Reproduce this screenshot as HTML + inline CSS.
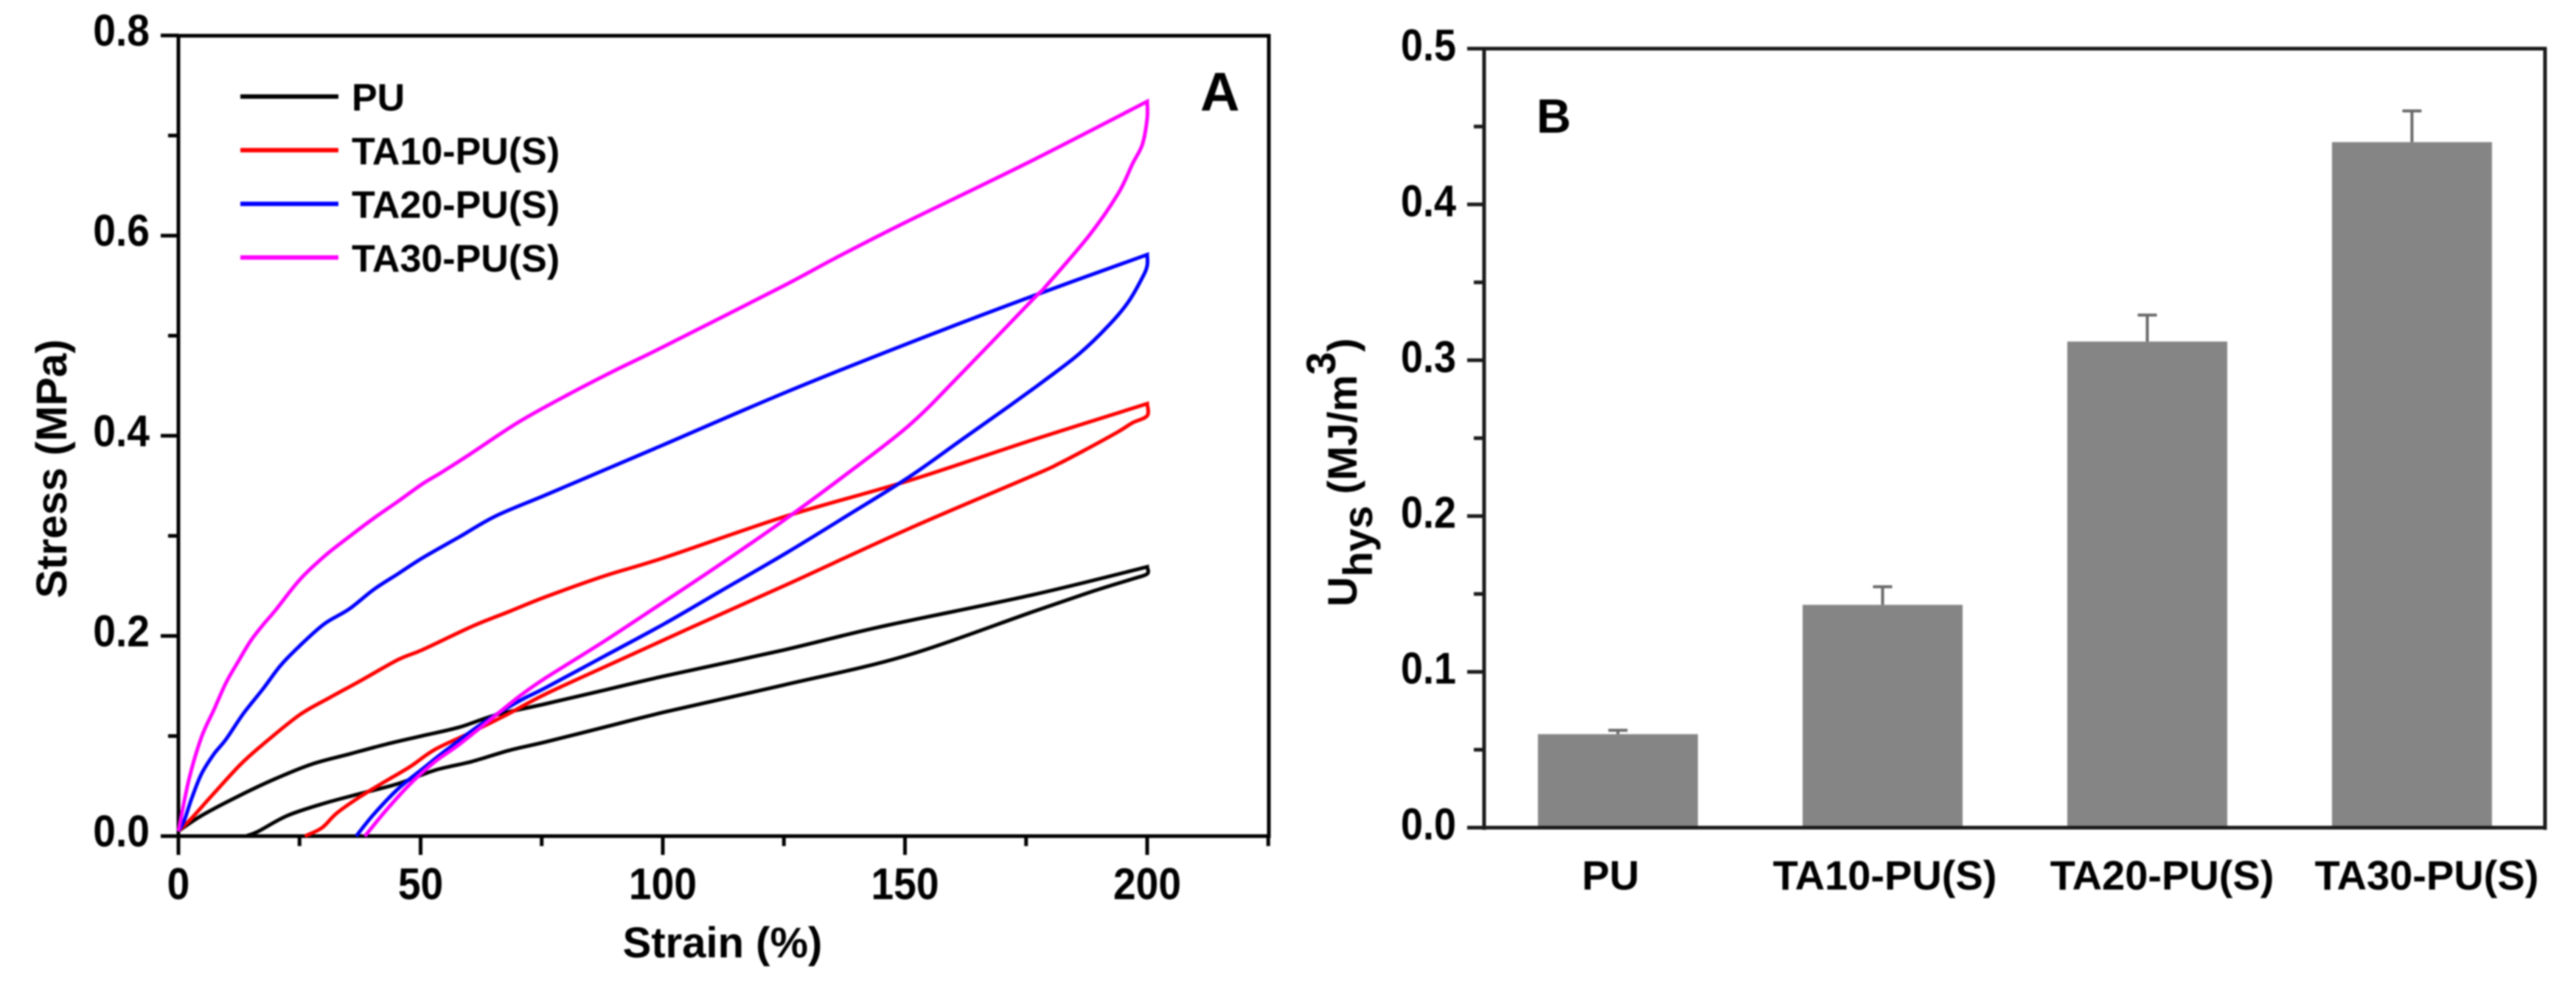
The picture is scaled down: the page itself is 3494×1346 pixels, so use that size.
<!DOCTYPE html>
<html lang="en">
<head>
<meta charset="utf-8">
<title>Stress-strain hysteresis and energy loss</title>
<style>
html,body{margin:0;padding:0;background:#fff;width:3494px;height:1346px;overflow:hidden}
svg{display:block;filter:blur(1px)}
text{font-family:"Liberation Sans",Arial,sans-serif;font-weight:700;fill:#000}
</style>
</head>
<body>
<svg id="figure" xmlns="http://www.w3.org/2000/svg" width="3494" height="1346" viewBox="0 0 3494 1346">
  <rect width="3494" height="1346" fill="#fff"/>
  <g id="panelA">
    <text x="980" y="1299" font-size="58" text-anchor="middle">Strain (%)</text>
    <text transform="translate(90,636) rotate(-90)" font-size="58" text-anchor="middle">Stress (MPa)</text>
    <text x="1628" y="150" font-size="74">A</text>
  </g>
  <g id="panelB">
    <text transform="translate(1840,823) rotate(-90)" font-size="56"><tspan>U</tspan><tspan dy="21">hys</tspan><tspan dy="-21"> (MJ/m</tspan><tspan dy="-29">3</tspan><tspan dy="29">)</tspan></text>
    <text x="2084" y="180" font-size="65">B</text>
  </g>
</svg>
<script>
// ---------- Panel A data ----------
const strainTicks = [0, 50, 100, 150, 200];
const strainMinorTicks = [25, 75, 125, 175, 225];
const stressTicks = [0.0, 0.2, 0.4, 0.6, 0.8];
const stressMinorTicks = [0.1, 0.3, 0.5, 0.7];
const seriesNames = ['PU', 'TA10-PU(S)', 'TA20-PU(S)', 'TA30-PU(S)'];

const puStrain = [0,4.77,12.4,20,27.6,35.2,42.8,50.4,58,65.6,75.8,88.9,100.4,125,144.8,176.3,200,200,197,189,176.3,150,125,100.4,88.9,75.8,68.2,60.6,53,45.4,37.7,30.1,22.5,16.4,13.9];
const puStress = [0.005,0.0205,0.04,0.0573,0.072,0.0819,0.0917,0.1003,0.1088,0.1211,0.1322,0.147,0.16,0.186,0.209,0.241,0.269,0.262,0.257,0.245,0.224,0.18,0.151,0.124,0.11,0.0941,0.0856,0.0745,0.0659,0.0524,0.0426,0.0328,0.0205,0.0045,0];

const ta10Strain = [0,2.74,7.3,12.9,17.45,25,31.2,37.7,45.4,50.4,60.6,68.2,75.8,88,100.15,125.5,150.9,176.3,200,200,197,194,188,181.7,176.3,150.9,125.5,106.2,90,75.8,68.2,60.6,53,47.9,42.8,37.7,32.7,29.6,26.1];
const ta10Stress = [0.005,0.018,0.0426,0.072,0.0917,0.1211,0.1383,0.1555,0.1764,0.1862,0.2095,0.2242,0.239,0.26,0.278,0.3197,0.3553,0.3958,0.432,0.42,0.413,0.404,0.388,0.372,0.36,0.3074,0.2511,0.2092,0.1735,0.142,0.1224,0.104,0.0867,0.0696,0.0549,0.04,0.023,0.0082,0];

const ta20Strain = [0,1.2,2.74,4.77,7.3,9.8,13.4,17.45,21,25,30.1,35.2,40.3,45.4,50.4,58,65.6,75.8,88,100.15,125.5,150.9,176.3,200,200,199,196,192,186,179,176.3,171.6,161.4,150.9,138,125.5,112,100.15,88,75.8,70.7,63.1,55.5,50.4,45.4,40.3,36.7];
const ta20Stress = [0.005,0.0156,0.0377,0.0622,0.0819,0.0966,0.1224,0.147,0.17,0.19,0.212,0.2267,0.2463,0.2623,0.278,0.299,0.32,0.3408,0.366,0.391,0.4437,0.4928,0.5395,0.581,0.57,0.558,0.533,0.51,0.482,0.456,0.4464,0.43,0.395,0.359,0.32,0.2829,0.245,0.2117,0.18,0.1482,0.1359,0.1138,0.0867,0.0672,0.0475,0.0217,0];

const ta30Strain = [0,2.2,4.77,7.3,9.8,12.4,14.9,17.45,20,25,30.1,35.2,40.3,45.4,50.4,54.5,60,70,80,90,100.15,125,135.6,150,175,200,200,199,197,194,188,179,176.3,161.4,150.9,138,125.5,112,100.15,88,75.8,70.7,65.6,58,53,47.9,42.8,38.5];
const ta30Stress = [0.005,0.0573,0.099,0.126,0.153,0.175,0.195,0.211,0.2255,0.256,0.2795,0.299,0.3175,0.3347,0.352,0.364,0.381,0.413,0.44,0.465,0.489,0.55,0.5775,0.613,0.672,0.734,0.717,0.691,0.672,0.642,0.6,0.549,0.5358,0.461,0.4106,0.362,0.3173,0.272,0.2338,0.195,0.158,0.1408,0.1211,0.0917,0.0745,0.0524,0.0254,0];

// ---------- Panel B data ----------
const barCategories = ['PU', 'TA10-PU(S)', 'TA20-PU(S)', 'TA30-PU(S)'];
const barValues = [0.06, 0.143, 0.312, 0.44];
const barErrors = [0.0025, 0.0116, 0.017, 0.02];
const uhysTicks = [0.0, 0.1, 0.2, 0.3, 0.4, 0.5];
const uhysMinorTicks = [0.05, 0.15, 0.25, 0.35, 0.45];

// ---------- Scales ----------
const xA = v => 242 + v * 6.57;
const yA = v => 1134.5 - v * 1358;
const yB = v => 1123 - v * 2114;
const xB = i => 2194.5 + i * 359;
const BAR_WIDTH = 217;
const LABEL_NUDGE = [-10, 3, 20, 20];
const NS = 'http://www.w3.org/2000/svg';
const panelA = document.getElementById('panelA');
const panelB = document.getElementById('panelB');

function mk(tag, parent, props) {
  const el = document.createElementNS(NS, tag);
  for (const k in props) el.setAttribute(k, props[k]);
  parent.appendChild(el);
  return el;
}
function smoothSegment(pts) {
  let d = '';
  for (let i = 0; i < pts.length - 1; i++) {
    const p0 = pts[Math.max(i - 1, 0)], p1 = pts[i], p2 = pts[i + 1], p3 = pts[Math.min(i + 2, pts.length - 1)];
    const c1x = p1[0] + (p2[0] - p0[0]) / 6, c1y = p1[1] + (p2[1] - p0[1]) / 6;
    const c2x = p2[0] - (p3[0] - p1[0]) / 6, c2y = p2[1] - (p3[1] - p1[1]) / 6;
    d += 'C' + c1x.toFixed(1) + ' ' + c1y.toFixed(1) + ' ' + c2x.toFixed(1) + ' ' + c2y.toFixed(1) + ' ' + p2[0].toFixed(1) + ' ' + p2[1].toFixed(1);
  }
  return d;
}
// The loading branch and the unloading branch are smoothed separately so the peak stays sharp.
function loopPath(pts) {
  let peak = 0;
  pts.forEach((p, i) => { if (p[0] > pts[peak][0]) peak = i; });
  return 'M' + pts[0][0].toFixed(1) + ' ' + pts[0][1].toFixed(1) + smoothSegment(pts.slice(0, peak + 1)) + smoothSegment(pts.slice(peak));
}
function axisLine(parent, x1, y1, x2, y2, w, color) {
  return mk('line', parent, {x1: x1, y1: y1, x2: x2, y2: y2, stroke: color || '#000', 'stroke-width': w});
}

// ---------- Panel A frame ----------
const aFrame = [[242,46,242,1137,'panel-a-left-axis'],[1721,46,1721,1137,'panel-a-right-axis'],[240,48.5,1723,48.5,'panel-a-top-axis'],[240,1134.5,1723,1134.5,'panel-a-bottom-axis']];
aFrame.forEach(f => {
  const l = axisLine(panelA, f[0], f[1], f[2], f[3], 5);
  
  
});
strainTicks.forEach(v => {
  const t = axisLine(panelA, xA(v), 1134, xA(v), 1160, 5);
  
  
  const s = mk('text', panelA, {transform: 'translate(' + xA(v) + ',1220) scale(0.92,1)', 'font-size': 60, 'text-anchor': 'middle'});
  s.textContent = String(v);
  
  
});
strainMinorTicks.forEach(v => {
  const t = axisLine(panelA, xA(v), 1134, xA(v), 1148, 5);
  
  
});
stressTicks.forEach(v => {
  const t = axisLine(panelA, 218, yA(v), 242, yA(v), 5);
  
  
  const s = mk('text', panelA, {transform: 'translate(203,' + (yA(v) + 14) + ') scale(0.92,1)', 'font-size': 60, 'text-anchor': 'end'});
  s.textContent = v.toFixed(1);
  
  
});
stressMinorTicks.forEach(v => {
  const t = axisLine(panelA, 228, yA(v), 242, yA(v), 5);
  
  
});

// ---------- Panel A curves ----------
function drawCurve(xs, ys, color, name) {
  const pts = xs.map((x, i) => [xA(x), yA(ys[i])]);
  const p = mk('path', panelA, {d: loopPath(pts), fill: 'none', stroke: color, 'stroke-width': 5, 'stroke-linejoin': 'miter'});
  
  
}
drawCurve(puStrain, puStress, '#000000', 'pu-curve');
drawCurve(ta10Strain, ta10Stress, '#ff0000', 'ta10-pu-curve');
drawCurve(ta20Strain, ta20Stress, '#0000ff', 'ta20-pu-curve');
drawCurve(ta30Strain, ta30Stress, '#ff00ff', 'ta30-pu-curve');

// ---------- Panel A legend ----------
const legendColors = ['#000000', '#ff0000', '#0000ff', '#ff00ff'];
seriesNames.forEach((n, i) => {
  const y = 131 + i * 72.8;
  const l = axisLine(panelA, 326, y, 459, y, 6, legendColors[i]);
  
  
  const t = mk('text', panelA, {x: 477, y: y + 19, 'font-size': 52});
  t.textContent = n;
  
  
});

// ---------- Panel B bars ----------
barCategories.forEach((c, i) => {
  const top = yB(barValues[i]);
  const errTop = yB(barValues[i] + barErrors[i]);
  const stem = axisLine(panelB, xB(i), errTop, xB(i), top, 4, '#6a6a6a');
  
  
  const cap = axisLine(panelB, xB(i) - 13, errTop, xB(i) + 13, errTop, 4, '#6a6a6a');
  
  
  const r = mk('rect', panelB, {x: xB(i) - BAR_WIDTH / 2, y: top, width: BAR_WIDTH, height: 1123 - top, fill: '#858585'});
  
  
  const t = mk('text', panelB, {x: xB(i) + LABEL_NUDGE[i], y: 1207, 'font-size': 56, 'text-anchor': 'middle'});
  t.textContent = c;
  
  
});

// ---------- Panel B frame ----------
const bFrame = [[2013,64,2013,1126,'panel-b-left-axis'],[3452,64,3452,1126,'panel-b-right-axis'],[2011,66,3454,66,'panel-b-top-axis'],[2011,1123,3454,1123,'panel-b-bottom-axis']];
bFrame.forEach(f => {
  const l = axisLine(panelB, f[0], f[1], f[2], f[3], 5, '#1a1a1a');
  
  
});
uhysTicks.forEach(v => {
  const t = axisLine(panelB, 1990, yB(v), 2013, yB(v), 5, '#1a1a1a');
  
  
  const s = mk('text', panelB, {transform: 'translate(1975,' + (yB(v) + 16) + ') scale(0.9,1)', 'font-size': 60, 'text-anchor': 'end'});
  s.textContent = v.toFixed(1);
  
  
});
uhysMinorTicks.forEach(v => {
  const t = axisLine(panelB, 1999, yB(v), 2013, yB(v), 5, '#1a1a1a');
  
  
});
</script>
</body>
</html>
